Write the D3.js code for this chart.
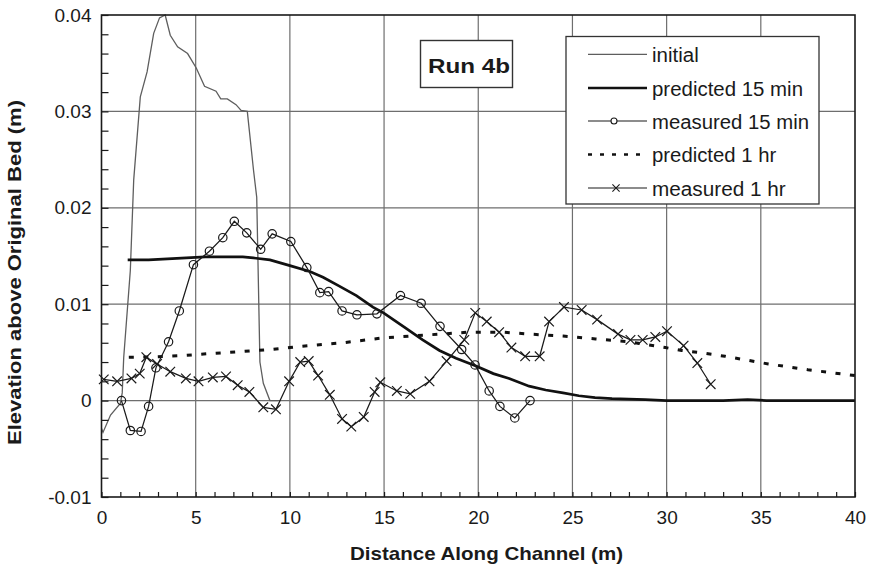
<!DOCTYPE html>
<html>
<head>
<meta charset="utf-8">
<script src="https://cdn.jsdelivr.net/npm/d3@7"></script>
<style>
  body { margin: 0; background: #fff; }
  text { font-family: "Liberation Sans", Arial, Helvetica, sans-serif; fill: #1a1a1a; }
</style>
</head>
<body>
<svg id="chart" width="874" height="565"></svg>
<script>
// ---- data: [distance (m), elevation above original bed (m)] ----
const initialBed = [
  [0, -0.0029], [0.08, -0.0033], [0.48, -0.0015], [1.0, -0.0003], [1.1, 0.0008],
  [1.18, 0.0045], [1.53, 0.0135], [1.71, 0.0229], [2.06, 0.0315], [2.42, 0.0341],
  [2.77, 0.0381], [3.08, 0.0397], [3.38, 0.0400], [3.65, 0.0379], [4.04, 0.0367],
  [4.57, 0.0360], [5.03, 0.0345], [5.47, 0.0326], [6.08, 0.0321], [6.33, 0.0313],
  [6.68, 0.0313], [7.14, 0.0307], [7.41, 0.0301], [7.74, 0.0300], [8.07, 0.0239],
  [8.24, 0.0211], [8.41, 0.0040], [8.59, 0.0018], [8.94, 0.0000], [9.4, 0.0000]
];
const predicted15 = [
  [1.39, 0.0146], [2.5, 0.0146], [3.5, 0.0147], [4.5, 0.0148], [5.5, 0.0149],
  [6.5, 0.0149], [7.5, 0.0149], [8.06, 0.0148], [8.94, 0.0146], [10.0, 0.0140],
  [11.06, 0.0134], [11.76, 0.0128], [12.6, 0.0119], [13.53, 0.0109], [14.41, 0.0097],
  [14.97, 0.0091], [16.17, 0.0075], [17.05, 0.0063], [17.94, 0.0052], [18.82, 0.0044],
  [19.88, 0.0036], [20.8, 0.0028], [21.64, 0.0023], [22.7, 0.0015], [23.58, 0.0011],
  [24.5, 0.0008], [25.34, 0.0005], [26.2, 0.0003], [27.1, 0.0002], [28.87, 0.0001],
  [30.0, 0.0000], [33.0, 0.0000], [34.3, 0.0001], [35.3, 0.0000], [40.0, 0.0000]
];
const measured15 = [
  [1.06, 0.0000], [1.53, -0.0031], [2.10, -0.0032], [2.50, -0.0006], [2.89, 0.0034],
  [3.56, 0.0061], [4.13, 0.0093], [4.88, 0.0141], [5.73, 0.0155], [6.44, 0.0169],
  [7.05, 0.0186], [7.71, 0.0174], [8.45, 0.0157], [9.06, 0.0173], [10.05, 0.0165],
  [10.90, 0.0138], [11.59, 0.0112], [12.06, 0.0113], [12.77, 0.0093], [13.56, 0.0089],
  [14.62, 0.0090], [15.87, 0.0109], [16.97, 0.0101], [17.97, 0.0077], [19.12, 0.0053],
  [19.83, 0.0037], [20.58, 0.0010], [21.15, -0.0006], [21.94, -0.0018], [22.75, 0.0000]
];
const predicted1h = [
  [1.45, 0.0045], [2.93, 0.00455], [4.52, 0.0047], [5.93, 0.0049], [7.53, 0.0051],
  [8.94, 0.0053], [10.0, 0.0055], [10.44, 0.0056], [12.82, 0.0060], [14.94, 0.0065],
  [17.23, 0.0068], [19.52, 0.0071], [21.29, 0.0071], [22.7, 0.0069], [24.5, 0.0067],
  [26.23, 0.0064], [27.99, 0.0061], [29.93, 0.0055], [30.8, 0.0052], [31.69, 0.0050],
  [33.1, 0.0046], [35.4, 0.0038], [37.5, 0.0032], [40.0, 0.0026]
];
const measured1h = [
  [0.12, 0.0022], [0.83, 0.0020], [1.59, 0.0023], [2.03, 0.0028], [2.38, 0.0045],
  [2.95, 0.0038], [3.65, 0.0030], [4.48, 0.0023], [5.15, 0.0020], [5.91, 0.0024],
  [6.61, 0.0025], [7.23, 0.0016], [7.85, 0.0009], [8.59, -0.0007], [9.26, -0.0009],
  [9.96, 0.0020], [10.55, 0.0040], [11.0, 0.0041], [11.50, 0.0026], [12.12, 0.0006],
  [12.77, -0.0019], [13.26, -0.0027], [13.92, -0.0017], [14.50, 0.0009], [14.80, 0.0019],
  [15.68, 0.0010], [16.39, 0.0007], [17.41, 0.0020], [18.32, 0.0041], [19.26, 0.0063],
  [19.84, 0.0091], [20.45, 0.0082], [21.11, 0.0071], [21.76, 0.0055], [22.49, 0.0046],
  [23.26, 0.0046], [23.76, 0.0082], [24.55, 0.0097], [25.49, 0.0094], [26.31, 0.0084],
  [27.42, 0.0069], [28.08, 0.0063], [28.73, 0.0063], [29.40, 0.0066], [30.02, 0.0072],
  [30.90, 0.0057], [31.63, 0.0039], [32.34, 0.0017]
];

const xTicks = [0, 5, 10, 15, 20, 25, 30, 35, 40];
const yTicks = [-0.01, 0, 0.01, 0.02, 0.03, 0.04];
const yTickLabels = ["-0.01", "0", "0.01", "0.02", "0.03", "0.04"];
const legendLabels = ["initial", "predicted 15 min", "measured 15 min", "predicted 1 hr", "measured 1 hr"];
const runLabel = "Run 4b";
const xTitle = "Distance Along Channel (m)";
const yTitle = "Elevation above Original Bed (m)";

// ---- layout ----
const svg = d3.select("#chart");
const plot = { left: 101.5, right: 855, top: 15, bottom: 497 };
const x = d3.scaleLinear().domain([0, 40]).range([plot.left, plot.right]);
const y = d3.scaleLinear().domain([-0.01, 0.04]).range([plot.bottom, plot.top]);
const ink = "#1a1a1a";
const gridColor = "#6e6e6e";

// gridlines
const grid = svg.append("g");
grid.selectAll("line.v").data(xTicks.slice(1, -1)).join("line")
  .attr("x1", d => x(d)).attr("x2", d => x(d))
  .attr("y1", plot.top).attr("y2", plot.bottom)
  .attr("stroke", gridColor).attr("stroke-width", 1.2);
grid.selectAll("line.h").data(yTicks.slice(1, -1)).join("line")
  .attr("x1", plot.left).attr("x2", plot.right)
  .attr("y1", d => y(d)).attr("y2", d => y(d))
  .attr("stroke", gridColor).attr("stroke-width", 1.2);

const line = d3.line().x(d => x(d[0])).y(d => y(d[1]));

// series lines
svg.append("path").datum(initialBed).attr("d", line)
  .attr("fill", "none").attr("stroke", "#5e5e5e").attr("stroke-width", 1.3);
svg.append("path").datum(predicted1h).attr("d", line)
  .attr("fill", "none").attr("stroke", "#111").attr("stroke-width", 3)
  .attr("stroke-dasharray", "5,9.5");
svg.append("path").datum(predicted15).attr("d", line)
  .attr("fill", "none").attr("stroke", "#111").attr("stroke-width", 2.7);
svg.append("path").datum(measured15).attr("d", line)
  .attr("fill", "none").attr("stroke", ink).attr("stroke-width", 1.25);
svg.append("path").datum(measured1h).attr("d", line)
  .attr("fill", "none").attr("stroke", ink).attr("stroke-width", 1.25);

// markers
svg.append("g").selectAll("circle").data(measured15).join("circle")
  .attr("cx", d => x(d[0])).attr("cy", d => y(d[1])).attr("r", 4.2)
  .attr("fill", "none").attr("stroke", ink).attr("stroke-width", 1.2);

function crossPath(cx, cy, s) {
  return `M${cx - s},${cy - s}L${cx + s},${cy + s}M${cx - s},${cy + s}L${cx + s},${cy - s}`;
}
svg.append("g").selectAll("path").data(measured1h).join("path")
  .attr("d", d => crossPath(x(d[0]), y(d[1]), 4.8))
  .attr("fill", "none").attr("stroke", ink).attr("stroke-width", 1.2);

// plot frame
svg.append("rect")
  .attr("x", plot.left).attr("y", plot.top)
  .attr("width", plot.right - plot.left).attr("height", plot.bottom - plot.top)
  .attr("fill", "none").attr("stroke", ink).attr("stroke-width", 1.6);

// minor ticks pointing into the plot
svg.append("g").attr("transform", `translate(${plot.left},0)`)
  .call(d3.axisRight(y).tickValues(d3.range(-10, 41, 2).map(v => v / 1000))
    .tickSize(7).tickFormat(""))
  .call(g => g.select(".domain").remove())
  .call(g => g.selectAll("line").attr("stroke", ink).attr("stroke-width", 1.2));
svg.append("g").attr("transform", `translate(0,${plot.bottom})`)
  .call(d3.axisTop(x).tickValues(d3.range(0, 41, 1)).tickSize(5).tickFormat(""))
  .call(g => g.select(".domain").remove())
  .call(g => g.selectAll("line").attr("stroke", ink).attr("stroke-width", 1.2));

// tick labels
svg.append("g").attr("transform", `translate(${plot.left},0)`)
  .call(d3.axisLeft(y).tickValues(yTicks).tickSize(0).tickPadding(10)
    .tickFormat((d, i) => yTickLabels[i]))
  .call(g => g.select(".domain").remove())
  .call(g => g.selectAll("text").attr("font-size", 19).attr("fill", ink)
    .attr("font-family", "'Liberation Sans', Arial, sans-serif"));
svg.append("g").attr("transform", `translate(0,${plot.bottom})`)
  .call(d3.axisBottom(x).tickValues(xTicks).tickSize(0).tickPadding(13.5)
    .tickFormat(d3.format("d")))
  .call(g => g.select(".domain").remove())
  .call(g => g.selectAll("text").attr("font-size", 19).attr("fill", ink)
    .attr("font-family", "'Liberation Sans', Arial, sans-serif"));

// axis titles
svg.append("text")
  .attr("x", 350).attr("y", 560)
  .attr("font-size", 19).attr("font-weight", "bold")
  .attr("textLength", 273).attr("lengthAdjust", "spacingAndGlyphs")
  .text(xTitle);
svg.append("text")
  .attr("transform", "translate(21,445) rotate(-90)")
  .attr("font-size", 19).attr("font-weight", "bold")
  .attr("textLength", 345).attr("lengthAdjust", "spacingAndGlyphs")
  .text(yTitle);

// run label box
svg.append("rect")
  .attr("x", 420.5).attr("y", 40.5).attr("width", 92).attr("height", 47)
  .attr("fill", "#fff").attr("stroke", "#333").attr("stroke-width", 1.4);
svg.append("text")
  .attr("x", 428).attr("y", 73.3)
  .attr("font-size", 20.5).attr("font-weight", "bold")
  .attr("textLength", 82).attr("lengthAdjust", "spacingAndGlyphs")
  .text(runLabel);

// legend
const legend = svg.append("g");
legend.append("rect")
  .attr("x", 566).attr("y", 36.5).attr("width", 253).attr("height", 167.5)
  .attr("fill", "#fff").attr("stroke", "#333").attr("stroke-width", 1.3);
const rowY = [54.3, 88, 121, 154.5, 188];
const textWidths = [46.7, 151, 157, 124.3, 133.7];
const sx0 = 588, sx1 = 647, sxm = 616;
legendLabels.forEach((label, i) => {
  const ly = rowY[i];
  const l = legend.append("line")
    .attr("x1", sx0).attr("x2", sx1).attr("y1", ly).attr("y2", ly);
  if (i === 0) l.attr("stroke", "#5e5e5e").attr("stroke-width", 1.3);
  if (i === 1) l.attr("stroke", "#111").attr("stroke-width", 2.7);
  if (i === 2 || i === 4) l.attr("stroke", ink).attr("stroke-width", 1.2);
  if (i === 3) l.attr("stroke", "#111").attr("stroke-width", 2.7).attr("stroke-dasharray", "4,8");
  if (i === 2) legend.append("circle").attr("cx", sxm - 2).attr("cy", ly).attr("r", 3)
    .attr("fill", "#fff").attr("stroke", ink).attr("stroke-width", 1.1);
  if (i === 4) legend.append("path").attr("d", crossPath(sxm, ly, 3.6))
    .attr("fill", "none").attr("stroke", ink).attr("stroke-width", 1.1);
  legend.append("text")
    .attr("x", 652).attr("y", ly + 7.5)
    .attr("font-size", 19.5)
    .attr("textLength", textWidths[i]).attr("lengthAdjust", "spacingAndGlyphs")
    .text(label);
});
</script>
</body>
</html>
